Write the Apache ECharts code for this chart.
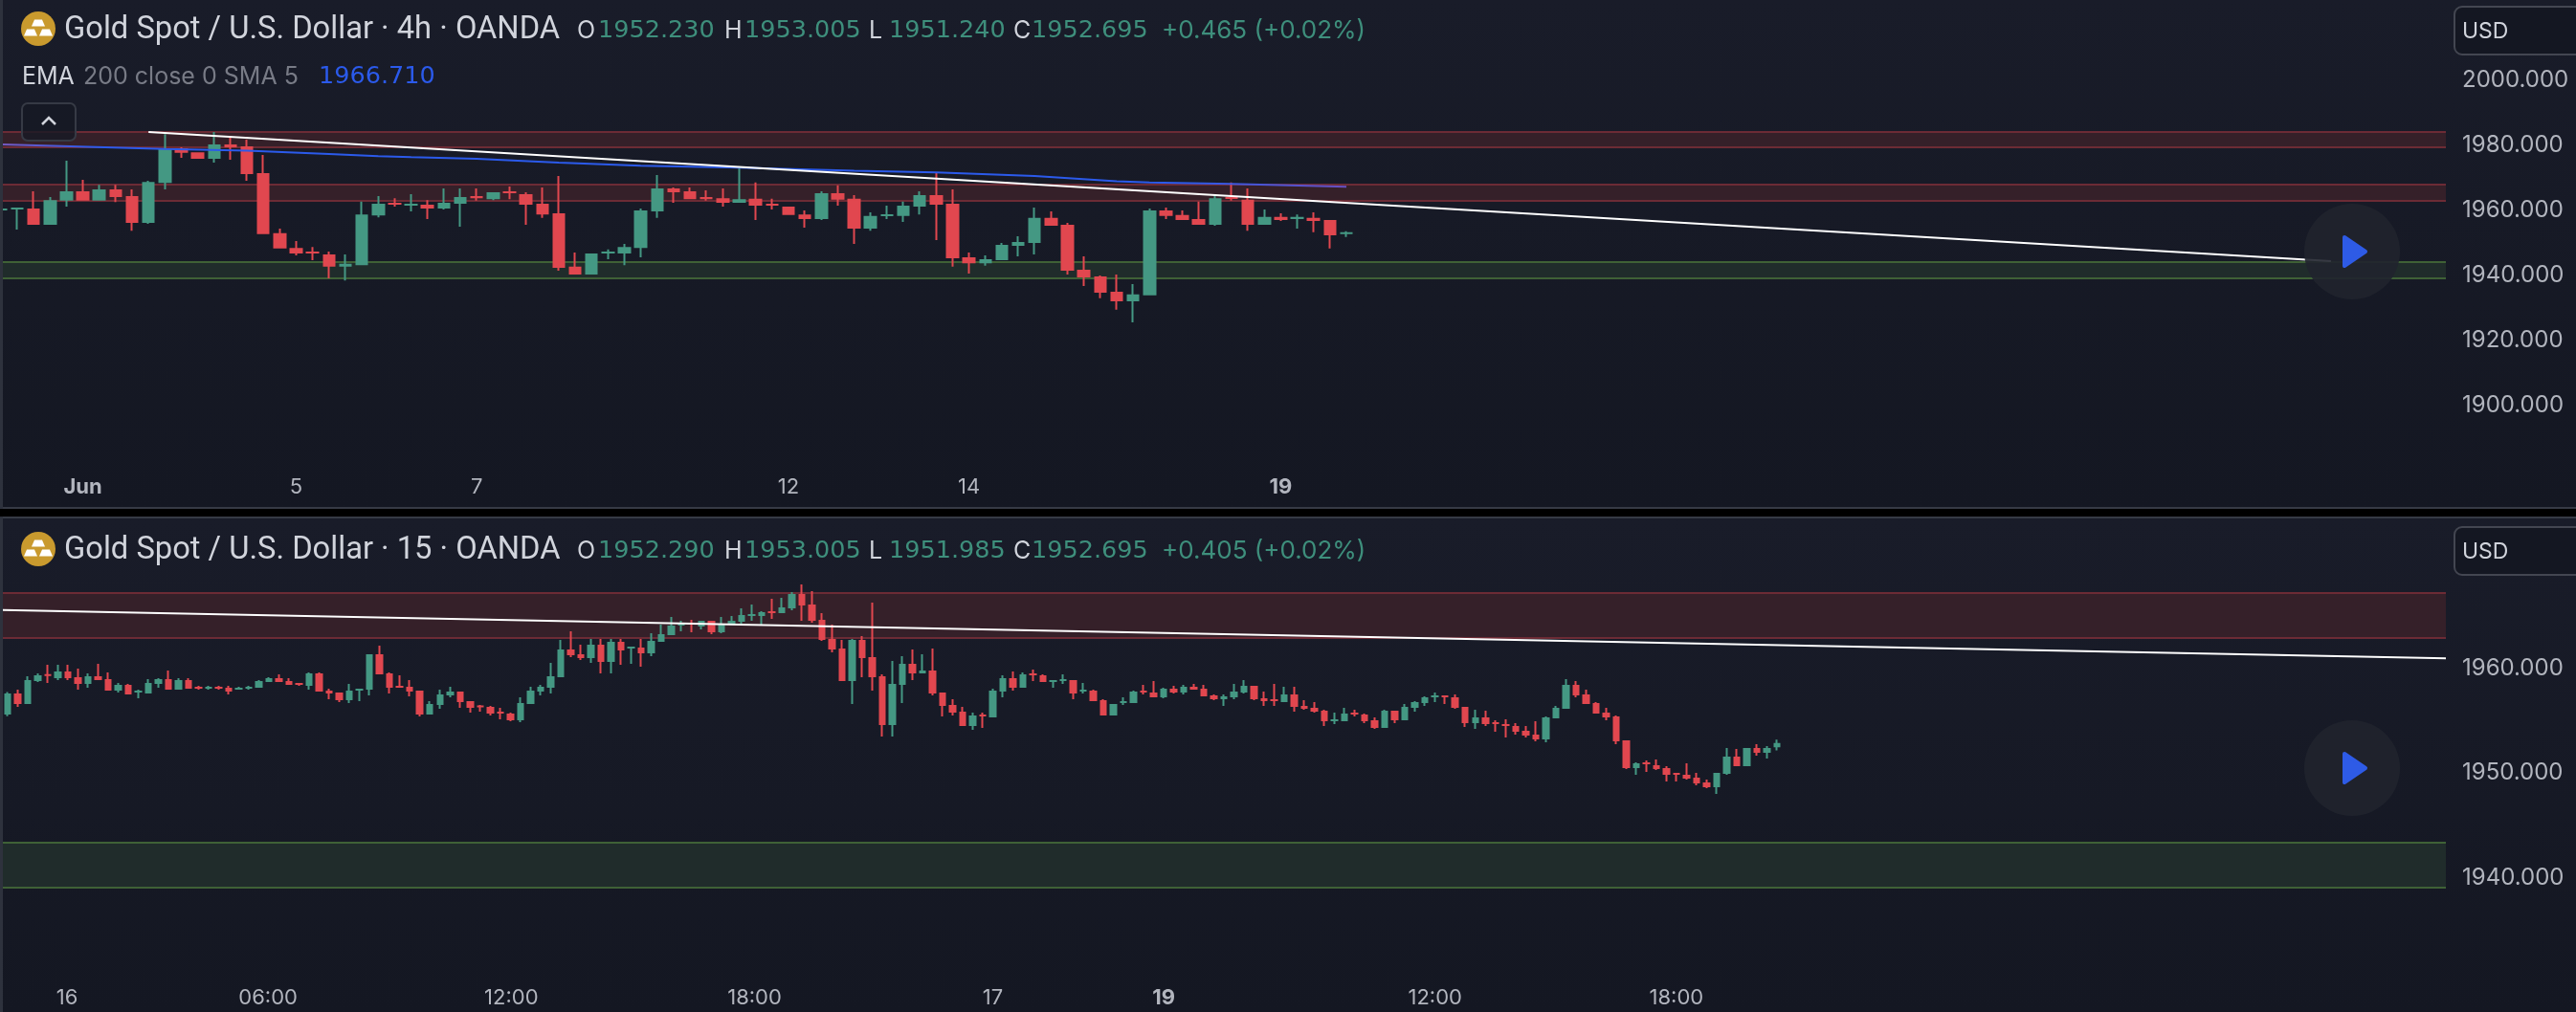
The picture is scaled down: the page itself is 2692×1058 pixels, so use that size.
<!DOCTYPE html>
<html><head><meta charset="utf-8">
<style>html,body{margin:0;padding:0;background:#000}#c{width:2692px;height:1058px}</style>
<script src="https://cdn.jsdelivr.net/npm/echarts@6/dist/echarts.min.js"></script>
</head><body><div id="c"></div>
<script>
// ---------- DATA: [open, close, low, high]
const candles4h = [
[1959.4,1960.0,1959.4,1960.0],[1959.7,1960.3,1953.5,1960.3],[1960.0,1955.0,1955.0,1965.3],[1955.0,1962.6,1955.0,1963.5],
[1962.4,1965.3,1960.6,1974.7],[1965.3,1962.4,1962.4,1968.8],[1962.4,1965.9,1962.4,1967.3],[1965.9,1963.5,1962.0,1967.3],
[1963.8,1955.6,1953.2,1965.9],[1955.6,1968.2,1955.3,1968.5],[1967.9,1978.5,1965.9,1982.9],[1978.5,1977.1,1975.6,1978.8],
[1977.3,1975.3,1975.3,1977.3],[1975.3,1979.7,1974.1,1983.5],[1979.7,1978.8,1975.0,1981.8],[1979.1,1970.6,1968.5,1981.2],
[1970.9,1952.1,1952.1,1976.5],[1952.4,1947.7,1947.7,1953.8],[1947.9,1946.2,1945.6,1950.0],[1946.8,1946.2,1944.1,1948.2],
[1945.9,1942.1,1938.5,1946.8],[1942.1,1943.0,1937.9,1945.9],[1942.6,1958.2,1942.6,1962.1],[1957.9,1961.5,1957.3,1963.8],
[1961.8,1961.2,1960.6,1963.2],[1960.9,1961.5,1959.1,1964.4],[1961.2,1960.0,1956.8,1962.6],[1960.0,1961.8,1959.7,1966.2],
[1961.5,1963.5,1954.4,1966.2],[1963.8,1963.2,1962.4,1966.2],[1962.9,1965.0,1962.6,1965.0],[1965.3,1964.7,1962.9,1966.8],
[1964.4,1961.2,1955.0,1965.0],[1961.5,1958.2,1957.1,1966.5],[1958.5,1941.8,1940.9,1970.0],[1942.1,1939.7,1939.7,1946.5],
[1939.7,1946.2,1939.7,1946.2],[1946.2,1946.8,1944.4,1947.4],[1946.2,1948.2,1942.6,1949.1],[1947.9,1959.4,1945.0,1960.0],
[1959.1,1966.2,1957.1,1970.3],[1966.2,1965.0,1961.8,1966.5],[1965.3,1962.9,1962.9,1966.5],[1963.5,1962.9,1962.4,1965.6],
[1963.2,1961.8,1960.6,1966.2],[1961.8,1962.9,1961.8,1972.9],[1963.0,1960.9,1956.5,1968.0],[1961.5,1960.9,1959.7,1963.0],
[1960.6,1958.0,1958.0,1960.6],[1958.2,1956.8,1954.1,1959.4],[1956.8,1964.7,1956.5,1965.3],[1964.7,1962.7,1960.9,1967.1],
[1963.0,1953.8,1949.1,1964.1],[1953.8,1957.7,1953.2,1958.8],[1957.7,1958.2,1956.8,1960.9],[1957.7,1960.9,1955.9,1962.1],
[1960.6,1964.1,1958.2,1965.3],[1964.1,1961.2,1950.3,1971.2],[1961.5,1944.7,1942.1,1965.9],[1945.0,1943.2,1940.0,1946.5],
[1943.2,1944.4,1942.4,1945.6],[1944.1,1948.8,1944.1,1949.4],[1948.5,1949.7,1945.3,1951.5],[1949.4,1957.1,1945.9,1960.3],
[1957.1,1954.7,1954.7,1959.1],[1955.0,1940.9,1939.7,1955.6],[1941.2,1938.8,1936.2,1945.3],[1939.1,1934.1,1932.4,1939.4],
[1934.4,1931.5,1928.9,1939.7],[1931.5,1933.6,1925.0,1936.8],[1933.3,1959.4,1933.3,1960.0],[1959.4,1957.7,1956.8,1960.3],
[1958.0,1956.5,1956.5,1959.4],[1956.8,1955.0,1955.0,1962.1],[1955.0,1963.2,1954.7,1964.1],[1963.5,1963.0,1962.4,1968.0],
[1962.7,1955.0,1953.2,1966.2],[1955.0,1957.4,1955.0,1959.7],[1957.4,1956.5,1956.2,1958.5],[1956.8,1957.4,1953.8,1958.2],
[1957.1,1956.2,1952.7,1958.8],[1956.5,1951.8,1947.7,1956.5],[1952.23,1952.695,1951.24,1953.005]];

const candles15m = [
[1955.41,1957.43,1955.26,1957.58],[1957.43,1956.42,1956.15,1957.80],[1956.42,1958.71,1956.42,1959.08],[1958.62,1959.17,1958.53,1959.35],
[1959.26,1959.11,1958.44,1960.18],[1958.90,1959.54,1958.71,1960.18],[1959.54,1958.90,1958.71,1960.18],[1958.99,1958.35,1957.80,1959.81],
[1958.35,1959.08,1957.98,1959.35],[1959.08,1958.71,1958.71,1960.27],[1958.80,1957.70,1957.70,1959.45],[1957.70,1958.25,1957.52,1958.44],
[1958.25,1957.34,1957.34,1958.35],[1957.52,1957.70,1956.97,1957.80],[1957.43,1958.44,1957.43,1958.80],[1958.35,1958.80,1957.98,1958.90],
[1958.80,1957.80,1957.80,1959.63],[1957.80,1958.71,1957.80,1958.90],[1958.71,1957.89,1957.89,1958.90],[1958.07,1957.89,1957.80,1958.16],
[1957.89,1958.07,1957.80,1958.16],[1958.07,1957.89,1957.80,1958.16],[1957.98,1957.61,1957.34,1958.16],[1957.80,1957.98,1957.80,1958.07],
[1957.89,1958.07,1957.80,1958.16],[1957.98,1958.62,1957.98,1958.71],[1958.53,1958.90,1958.53,1958.99],[1958.90,1958.53,1958.53,1959.26],
[1958.62,1958.25,1958.25,1958.90],[1958.44,1958.25,1958.16,1958.44],[1958.16,1959.35,1957.80,1959.45],[1959.35,1957.61,1957.61,1959.45],
[1957.70,1957.43,1956.88,1957.89],[1957.52,1956.79,1956.61,1957.52],[1956.79,1957.70,1956.51,1958.35],[1957.70,1957.89,1956.70,1957.89],
[1957.80,1961.18,1957.25,1961.18],[1961.18,1959.26,1959.26,1962.01],[1959.35,1957.98,1957.43,1959.45],[1958.16,1957.98,1957.98,1959.17],
[1958.07,1957.61,1957.15,1958.71],[1957.70,1955.41,1955.23,1957.70],[1955.41,1956.42,1955.41,1956.70],[1956.33,1957.34,1955.96,1957.80],
[1957.25,1957.61,1957.06,1958.07],[1957.61,1956.61,1956.06,1957.61],[1956.70,1956.06,1955.60,1956.70],[1956.24,1956.15,1955.69,1956.33],
[1956.15,1955.51,1955.32,1956.24],[1955.69,1955.51,1954.96,1956.06],[1955.51,1954.87,1954.77,1955.60],[1954.87,1956.51,1954.68,1957.06],
[1956.42,1957.70,1956.42,1958.07],[1957.61,1958.07,1957.25,1958.25],[1957.98,1959.08,1957.43,1960.36],[1958.99,1961.64,1958.99,1962.56],
[1961.64,1961.09,1960.91,1963.38],[1961.18,1960.82,1960.64,1962.10],[1960.82,1962.10,1960.36,1962.65],[1962.10,1960.45,1959.35,1962.65],
[1960.45,1962.38,1959.35,1962.65],[1962.38,1961.55,1960.18,1962.65],[1961.73,1961.92,1960.27,1961.92],[1961.83,1961.28,1960.00,1962.65],
[1961.28,1962.47,1961.00,1963.20],[1962.38,1963.11,1962.38,1964.02],[1963.02,1963.94,1963.02,1964.76],[1963.94,1964.21,1963.39,1964.40],
[1964.21,1964.03,1963.30,1964.49],[1963.85,1964.40,1963.57,1964.40],[1964.40,1963.30,1963.11,1964.40],[1963.30,1964.12,1963.21,1964.76],
[1964.03,1964.40,1964.03,1964.85],[1964.30,1964.95,1963.94,1965.59],[1964.85,1965.04,1964.40,1965.95],[1964.85,1965.22,1963.94,1965.31],
[1965.31,1965.13,1964.58,1966.50],[1965.13,1965.68,1965.13,1966.59],[1965.59,1966.96,1965.40,1967.14],[1966.96,1965.86,1964.40,1967.88],
[1965.95,1964.40,1964.21,1967.24],[1964.49,1962.56,1962.47,1965.13],[1962.66,1961.65,1961.37,1964.03],[1961.74,1958.63,1958.63,1962.56],
[1958.63,1962.56,1956.43,1962.66],[1962.56,1960.82,1958.99,1962.93],[1960.92,1958.99,1957.71,1966.14],[1959.08,1954.41,1953.31,1959.27],
[1954.41,1958.35,1953.31,1960.55],[1958.26,1960.27,1956.52,1961.00],[1960.27,1959.36,1958.72,1961.65],[1959.36,1959.63,1959.36,1961.19],
[1959.63,1957.44,1957.25,1961.74],[1957.53,1956.24,1955.24,1957.53],[1956.34,1955.60,1955.33,1956.89],[1955.70,1954.32,1954.32,1956.15],
[1954.32,1955.33,1953.95,1955.60],[1955.42,1955.24,1954.14,1955.60],[1955.15,1957.71,1955.15,1957.89],[1957.62,1958.90,1957.07,1959.18],
[1958.90,1957.98,1957.71,1959.54],[1957.98,1959.27,1957.98,1959.45],[1959.36,1959.18,1958.63,1959.72],[1959.18,1958.53,1958.53,1959.27],
[1958.53,1958.72,1957.98,1958.72],[1958.63,1958.81,1958.35,1959.27],[1958.72,1957.44,1956.89,1958.72],[1957.62,1957.80,1957.44,1958.44],
[1957.71,1956.70,1956.70,1957.80],[1956.79,1955.33,1955.33,1956.89],[1955.33,1956.43,1955.33,1956.43],[1956.52,1956.70,1956.34,1957.07],
[1956.52,1957.62,1956.52,1957.71],[1957.71,1957.53,1957.34,1958.26],[1957.53,1957.07,1957.07,1958.63],[1957.07,1957.89,1956.98,1957.98],
[1957.89,1957.53,1957.44,1958.17],[1957.53,1958.08,1957.34,1958.26],[1958.08,1957.80,1957.80,1958.35],[1957.89,1957.16,1957.16,1958.26],
[1957.25,1956.89,1956.79,1957.34],[1956.89,1957.16,1956.24,1957.34],[1957.07,1957.62,1956.89,1958.35],[1957.53,1958.17,1957.44,1958.72],
[1958.17,1956.89,1956.79,1958.17],[1956.98,1956.70,1956.24,1957.62],[1956.89,1956.70,1956.24,1958.35],[1956.61,1957.34,1956.61,1958.08],
[1957.34,1956.15,1955.70,1958.08],[1956.24,1955.97,1955.88,1956.79],[1956.06,1955.70,1955.60,1956.61],[1955.79,1954.78,1954.32,1955.88],
[1954.78,1954.96,1954.51,1955.60],[1954.78,1955.51,1954.78,1956.06],[1955.60,1955.42,1955.24,1955.88],[1955.42,1954.78,1954.60,1955.51],
[1954.87,1954.14,1954.05,1955.15],[1954.14,1955.79,1954.14,1955.88],[1955.79,1954.87,1954.60,1955.79],[1954.87,1956.15,1954.87,1956.43],
[1956.06,1956.61,1955.70,1956.70],[1956.52,1957.07,1956.25,1957.16],[1957.07,1957.25,1956.61,1957.53],[1957.25,1957.07,1956.43,1957.25],
[1957.07,1956.06,1955.97,1957.34],[1956.15,1954.60,1954.23,1956.15],[1954.60,1955.15,1954.05,1955.88],[1955.15,1954.51,1954.32,1955.79],
[1954.69,1954.51,1953.77,1954.87],[1954.51,1954.32,1953.22,1954.96],[1954.32,1953.77,1953.50,1954.60],[1953.86,1953.41,1953.22,1954.32],
[1953.50,1953.04,1952.86,1954.78],[1953.04,1955.15,1952.77,1955.24],[1955.06,1956.06,1955.06,1956.25],[1955.97,1958.26,1955.97,1958.81],
[1958.26,1957.25,1957.07,1958.63],[1957.34,1956.43,1956.43,1957.80],[1956.52,1955.51,1955.51,1956.61],[1955.60,1955.15,1954.87,1956.06],
[1955.24,1952.86,1952.58,1955.33],[1952.95,1950.29,1950.20,1952.95],[1950.29,1950.75,1949.65,1950.84],[1950.84,1950.66,1949.93,1951.03],
[1950.57,1950.20,1950.11,1951.12],[1950.29,1949.65,1949.01,1950.48],[1949.83,1949.65,1949.01,1949.83],[1949.65,1949.29,1949.19,1950.75],
[1949.38,1948.83,1948.64,1949.83],[1948.92,1948.46,1948.37,1949.19],[1948.46,1949.83,1947.82,1949.83],[1949.74,1951.39,1949.65,1952.22],
[1951.39,1950.48,1950.48,1952.12],[1950.48,1952.22,1950.48,1952.22],[1952.22,1951.76,1951.48,1952.58],[1951.76,1952.22,1951.21,1952.40],
[1952.29,1952.695,1951.985,1953.005]];

const emaBarIndex = [0,10,15,20,23,25,29,34,39,45,52,57,63,68,70,75,82];
const emaValues   = [1979.7,1978.3,1977.8,1976.8,1976.1,1975.8,1975.3,1974.1,1973.2,1972.6,1971.6,1971.1,1970.0,1968.4,1968.0,1967.6,1966.7];

const trend4hBars = [9,142],   trend4hPrices = [1983.5,1943.8];
const trend15Bars = [-0.48,242.55], trend15Prices = [1965.43,1960.8];

const bands4hRed = [[1978.9,1983.7],[1962.4,1967.4]], bands4hGreen = [[1938.5,1943.5]];
const bands15Red = [[1962.75,1967.05]], bands15Green = [[1938.85,1943.2]];

const yTicks4h = [1900,1920,1940,1960,1980,2000], yTicks15 = [1940,1950,1960];
const xTickBars4h = [5,18,29,48,59,78], xTickText4h = ['Jun','5','7','12','14','19'];
const xTickBars15 = [5.9,25.9,50.1,74.3,98,115,142,166], xTickText15 = ['16','06:00','12:00','18:00','17','19','12:00','18:00'];
const boldTicks = ['Jun','19'];

const title4h = 'Gold Spot / U.S. Dollar · 4h · OANDA', title15 = 'Gold Spot / U.S. Dollar · 15 · OANDA';
const ohlc4h = ['1952.230','1953.005','1951.240','1952.695','+0.465 (+0.02%)'];
const ohlc15 = ['1952.290','1953.005','1951.985','1952.695','+0.405 (+0.02%)'];
const emaLegend = ['EMA','200 close 0 SMA 5','1966.710'];

// ---------- STYLE
const GREEN='#449883', RED='#E1474F', FONT='Inter, Roboto, sans-serif', TITLEFONT='Roboto, Inter, sans-serif', NUMFONT='"DejaVu Sans", Inter, sans-serif';
const RED_FILL='#352029', RED_EDGE='#6C2B35', GREEN_FILL='#202C2B', GREEN_EDGE='#3F6136';

function rows(list, pxUnit){ // a 2px stroke grows the body 1px each way: pull open/close in by that
  const d = 1/pxUnit;
  return list.map((r,i)=>{
    let [o,c,l,h]=r; const up=c>=o, hi=Math.max(o,c), lo=Math.min(o,c);
    let a=hi-d, b=lo+d; if(a<=b){a=(hi+lo)/2+0.001;b=(hi+lo)/2-0.001;}
    return [i, up?b:a, up?a:b, l, h];
  });
}
function bandSeries(red,green,idx){
  const mk=(list,fill,edge)=>({type:'line',xAxisIndex:idx,yAxisIndex:idx,data:[],z:1,silent:true,
    markArea:{silent:true,z:1,itemStyle:{color:fill,borderWidth:0},
      data:list.map(b=>[{yAxis:b[0],xAxis:'min'},{yAxis:b[1],xAxis:'max'}])},
    markLine:{silent:true,z:1,symbol:'none',animation:false,label:{show:false},
      lineStyle:{color:edge,width:2,type:'solid'},
      data:list.flatMap(b=>[{yAxis:b[0]},{yAxis:b[1]}])}});
  return [mk(red,RED_FILL,RED_EDGE),mk(green,GREEN_FILL,GREEN_EDGE)];
}
function candleSeries(list,px,w,idx){
  return {type:'candlestick',xAxisIndex:idx,yAxisIndex:idx,z:3,barWidth:w,silent:true,
    itemStyle:{color:GREEN,color0:RED,borderColor:GREEN,borderColor0:RED,borderWidth:2},
    data:rows(list,px)};
}
function xAxis(idx,min,max,bars,texts){
  return {type:'value',gridIndex:idx,min,max,axisLine:{show:false},axisTick:{show:false},splitLine:{show:false},
    axisLabel:{customValues:bars,margin:8,fontFamily:FONT,fontSize:22,color:'#B2B5BE',hideOverlap:false,
      showMinLabel:true,showMaxLabel:true,
      formatter:v=>{const i=bars.indexOf(v);const t=texts[i];return boldTicks.includes(t)?'{b|'+t+'}':t;},
      rich:{b:{fontFamily:FONT,fontSize:22,fontWeight:'bold',color:'#B2B5BE'}}}};
}
function yAxis(idx,min,max,ticks,lh){
  return {type:'value',gridIndex:idx,position:'right',min,max,axisLine:{show:false},axisTick:{show:false},splitLine:{show:false},
    axisLabel:{customValues:ticks,margin:17,align:'left',verticalAlign:'top',lineHeight:lh,fontFamily:FONT,fontSize:24,color:'#B2B5BE',formatter:v=>v.toFixed(3)}};
}

function header(yc,title,o,leg){
  const t=(x,y,text,fill,font)=>({type:'text',z:100,x,y,style:{text,fill,font,verticalAlign:'middle',align:'left'}});
  const F='25px '+FONT, NF='25.5px '+NUMFONT, CF='26px '+FONT, TF='32.7px '+TITLEFONT, G='#3E8F7C', W='#D1D4DC';
  const ty=yc+1;
  const bar=(cx,cy)=>({type:'polygon',z:101,shape:{points:[[cx-4,cy-3.5],[cx+4,cy-3.5],[cx+7,cy+3.5],[cx-7,cy+3.5]]},style:{fill:'#fff'}});
  const items=[
    {type:'circle',z:100,shape:{cx:40,cy:yc-1,r:18},style:{fill:'#C99A2E'}},
    bar(40,yc-7),bar(32,yc+3),bar(48,yc+3),
    t(67,ty,title,W,TF),
    t(603,ty,'O',W,F),t(625,ty,o[0],G,NF),
    t(757,ty,'H',W,F),t(778,ty,o[1],G,NF),
    t(908,ty,'L',W,F),t(929,ty,o[2],G,NF),
    t(1059,ty,'C',W,F),t(1078,ty,o[3],G,NF),
    t(1214,ty,o[4],G,CF)];
  if(leg){items.push(t(23,80,leg[0],W,F),t(87,80,leg[1],'#787B86',F),t(333,80,leg[2],'#2B5AEB',NF));}
  return items;
}
function usd(y,h,yc){return [
  {type:'rect',z:100,shape:{x:2565,y,width:140,height:h,r:8},style:{fill:'#141722',stroke:'#434651',lineWidth:2}},
  {type:'text',z:101,x:2573,y:yc,style:{text:'USD',fill:'#D1D4DC',font:'23px '+FONT,verticalAlign:'middle'}}];}
function play(cy){return [
  {type:'circle',z:100,shape:{cx:2458,cy,r:50},style:{fill:'rgba(32,35,46,0.9)'}},
  {type:'polygon',z:101,shape:{points:[[2450,cy-15],[2472,cy],[2450,cy+15]]},style:{fill:'#2E5BE6',stroke:'#2E5BE6',lineWidth:4,lineJoin:'round'}}];}

const bgGrad=(a,b)=>({type:'linear',x:0,y:0,x2:0,y2:1,colorStops:[{offset:0,color:a},{offset:1,color:b}]});
const graphics=[
  {type:'rect',z:-5,shape:{x:0,y:0,width:2692,height:530},style:{fill:bgGrad('#191C29','#141722')}},
  {type:'rect',z:-5,shape:{x:0,y:540,width:2692,height:518},style:{fill:bgGrad('#191C29','#141722')}},
  {type:'rect',z:90,shape:{x:0,y:530,width:2692,height:2},style:{fill:'#363A45'}},
  {type:'rect',z:90,shape:{x:0,y:540,width:2692,height:2},style:{fill:'#363A45'}},
  {type:'rect',z:90,shape:{x:0,y:0,width:3,height:532},style:{fill:'#2E323D'}},
  {type:'rect',z:90,shape:{x:0,y:540,width:3,height:518},style:{fill:'#2E323D'}},
  ...header(31,title4h,ohlc4h,emaLegend),
  ...header(575,title15,ohlc15,null),
  ...usd(7,50,33),...usd(551,50,577),
  ...play(263),...play(803),
  {type:'rect',z:95,shape:{x:23,y:108,width:56,height:39,r:6},style:{fill:'rgba(22,25,36,0.8)',stroke:'#363A45',lineWidth:2}},
  {type:'polyline',z:96,shape:{points:[[44,130],[51,123],[58,130]]},style:{fill:'none',stroke:'#D1D4DC',lineWidth:2.5}}
];

const option={
  backgroundColor:'#000',animation:false,
  grid:[
    {left:3,top:3,width:2553,height:487},
    {left:3,top:542,width:2553,height:482}
  ],
  xAxis:[xAxis(0,0.125,149,xTickBars4h,xTickText4h),xAxis(1,-0.48,242.55,xTickBars15,xTickText15)],
  yAxis:[yAxis(0,1880,2023.24,yTicks4h,4),yAxis(1,1930.05,1974.19,yTicks15,4)],
  graphic:graphics,
  series:[
    ...bandSeries(bands4hRed,bands4hGreen,0),
    ...bandSeries(bands15Red,bands15Green,1),
    candleSeries(candles4h,3.4,12,0),
    candleSeries(candles15m,10.92,6,1),
    {type:'line',xAxisIndex:0,yAxisIndex:0,z:4,silent:true,showSymbol:false,symbol:'none',
      data:emaBarIndex.map((b,i)=>[b,emaValues[i]]),
      lineStyle:{width:2,color:{type:'linear',x:0,y:0,x2:1,y2:0,colorStops:[
        {offset:0,color:'#7A5AC0'},{offset:0.07,color:'#2B5AEB'},{offset:0.88,color:'#2B5AEB'},{offset:1,color:'#6A4FC0'}]}}},
    {type:'line',xAxisIndex:0,yAxisIndex:0,z:5,silent:true,showSymbol:false,symbol:'none',
      data:trend4hBars.map((b,i)=>[b,trend4hPrices[i]]),lineStyle:{width:2,color:'#fff'}},
    {type:'line',xAxisIndex:1,yAxisIndex:1,z:5,silent:true,showSymbol:false,symbol:'none',
      data:trend15Bars.map((b,i)=>[b,trend15Prices[i]]),lineStyle:{width:2,color:'#fff'}}
  ]
};
echarts.init(document.getElementById('c')).setOption(option);
</script></body></html>
